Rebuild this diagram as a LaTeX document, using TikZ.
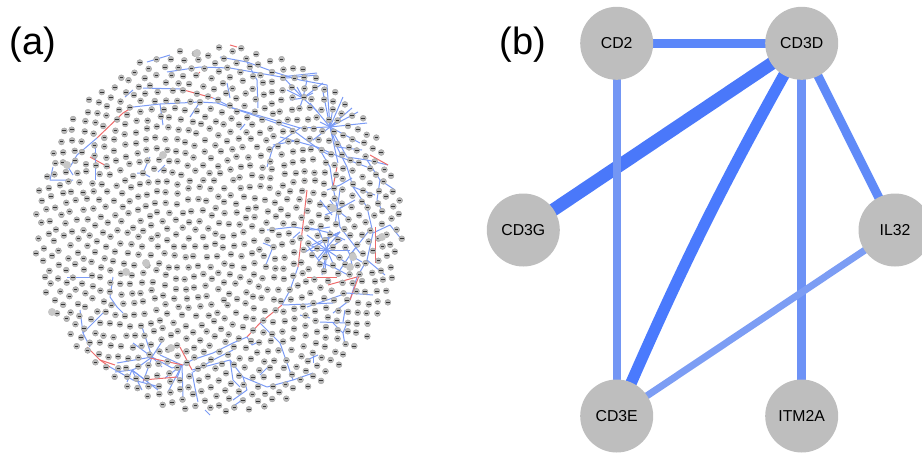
\documentclass[tikz,border=0pt]{standalone}
\usepackage{fontspec}
\setmainfont{Liberation Sans}
\usetikzlibrary{backgrounds}

\definecolor{nodegray}{HTML}{BEBEBE}
\definecolor{dotgray}{HTML}{B8B8B8}
\definecolor{netblue}{HTML}{7B9BF5}
\definecolor{netred}{HTML}{EE6B6B}
\definecolor{eA}{HTML}{4A78FA}
\definecolor{eB}{HTML}{4A7AFD}
\definecolor{eC}{HTML}{5B87F9}
\definecolor{eD}{HTML}{5F8AF8}
\definecolor{eE}{HTML}{6D92F6}
\definecolor{eF}{HTML}{7396F4}
\definecolor{eG}{HTML}{7C9DF4}

\tikzset{
  panellabel/.style={font=\fontsize{28.5}{30}\selectfont, inner sep=0pt},
  gene/.style={circle, fill=nodegray, minimum size=54.75pt, inner sep=0pt,
    font=\fontsize{11.85}{13}\selectfont},
  bl/.style={netblue, line width=0.75pt, line join=round},
  rd/.style={netred, line width=0.75pt, line join=round},
  dot/.style={fill=dotgray, draw=black!38, line width=0.25pt},
  dotlab/.style={black!80, line width=0.7pt},
  bigdot/.style={fill=black!22},
  link/.style={line cap=butt}
}

\begin{document}
\begin{tikzpicture}[x=0.75pt, y=-0.75pt]
\useasboundingbox (0,0) rectangle (922,454);

% ---------------- panel (a): large co-expression network ----------------
\node[panellabel] (la) at (33,45) {(a)};

% edges of the network (drawn under the vertices)
\draw[bl] (167,72) -- (200,67) -- (230,68) -- (287,78) -- (317,75);
\draw[bl] (147,62) -- (170,55);
\draw[bl] (220,57) -- (247,62) -- (277,73) -- (300,80) -- (327,85);
\draw[bl] (143,88) -- (180,89);
\draw[rd] (180,89) -- (213,98);
\draw[bl] (213,98) -- (233,108) -- (267,118) -- (300,128) -- (330,127);
\draw[bl] (133,107) -- (160,104) -- (200,102) -- (217,103) -- (253,115) -- (290,128) -- (320,150) -- (333,157);
\draw[rd] (97,138) -- (123,113) -- (133,107);
\draw[bl] (97,138) -- (77,155) -- (70,167);
\draw[rd] (90,157) -- (110,168);
\draw[bl] (95,142) -- (95,180);
\draw[bl] (53,167) -- (50,180) -- (73,180);
\draw[bl] (68,167) -- (73,175);
\draw[bl] (267,167) -- (273,147) -- (293,133) -- (300,128);
\draw[bl] (160,104) -- (163,125);
\draw[bl] (200,102) -- (190,117);
\draw[bl] (247,62) -- (257,80) -- (258,108);
\draw[bl] (227,83) -- (230,98);
\draw[bl] (125,97) -- (133,90);
\draw[bl] (240,130) -- (245,124);
\draw[bl] (280,77) -- (317,73);
\draw[bl] (280,137) -- (317,147) -- (340,157) -- (367,167);
\draw[bl] (273,145) -- (300,140);

% hubs in the upper right
\foreach \x/\y in {310/103,323/92,333/107,343/115,358/112,352/108,320/122,313/140,333/138,360/143,347/157,338/163,327/85,343/97,367/123}
  \draw[bl] (330,127) -- (\x,\y);
\foreach \x/\y in {287/90,297/87,313/93,307/80,323/83,283/77,300/107,318/112,290/100}
  \draw[bl] (303,98) -- (\x,\y);

% chains along the right side
\draw[bl] (330,127) -- (337,147) -- (347,167) -- (353,187) -- (367,207) -- (373,233) -- (367,260) -- (357,277) -- (350,300) -- (333,313);
\draw[bl] (320,150) -- (330,167) -- (333,187) -- (337,207) -- (340,227) -- (350,240) -- (360,253);
\draw[bl] (347,157) -- (367,160) -- (380,180) -- (377,200) -- (383,213);
\draw[bl] (367,160) -- (388,165);
\draw[bl] (373,233) -- (390,225) -- (402,240);
\draw[bl] (367,260) -- (385,275);
\draw[bl] (380,180) -- (395,190);
\draw[bl] (337,147) -- (362,150);
\draw[bl] (353,187) -- (375,195);

% dense cluster on the right
\foreach \x/\y in {307/235,310/250,318/262,325/270,335/268,345/262,350/250,342/240,330/230,318/228,308/245,322/275}
  \draw[bl] (327,250) -- (\x,\y);
\foreach \x/\y in {330/200,345/205,325/215,350/220,335/225,320/205,340/190,355/200}
  \draw[bl] (337,210) -- (\x,\y);
\foreach \x/\y in {345/245,358/245,352/265,362/262,340/270,368/232}
  \draw[bl] (350,255) -- (\x,\y);
\foreach \x/\y in {312/245,318/258,322/240,305/252}
  \draw[bl] (340,232) -- (\x,\y);
\draw[bl] (307,245) -- (320,262) -- (335,268) -- (348,275);
\draw[bl] (310,228) -- (330,233) -- (345,240);
\draw[bl] (267,230) -- (293,227) -- (313,230) -- (330,227);
\draw[bl] (263,243) -- (273,247) -- (265,267);
\draw[bl] (293,238) -- (300,232);
\draw[bl] (327,190) -- (340,185) -- (352,178);
\draw[bl] (320,200) -- (332,215);
\draw[rd] (270,230) -- (273,231);

% red links near the right
\draw[rd] (307,190) -- (302,233) -- (298,267);
\draw[rd] (337,167) -- (333,187);
\draw[rd] (307,277) -- (337,277);
\draw[rd] (328,285) -- (357,277);
\draw[rd] (350,300) -- (360,273);
\draw[rd] (375,227) -- (375,263);
\draw[rd] (370,155) -- (388,165);
\draw[rd] (230,45) -- (237,47);
\draw[rd] (197,75) -- (200,72);

% long path to the bottom left
\draw[bl] (298,267) -- (290,290) -- (282,305);
\draw[rd] (282,305) -- (260,323) -- (247,337);
\draw[bl] (247,337) -- (233,343) -- (213,353) -- (192,360) -- (183,365);
\draw[bl] (247,337) -- (252,345) -- (258,342);

% lower right
\draw[bl] (260,323) -- (280,343) -- (287,363) -- (293,380);
\draw[bl] (307,307) -- (347,293) -- (373,295);
\draw[bl] (283,305) -- (333,303);
\draw[bl] (320,322) -- (347,323) -- (343,333) -- (333,323);
\draw[bl] (343,322) -- (345,310);
\draw[bl] (343,333) -- (345,345);
\draw[bl] (300,315) -- (310,318);
\draw[bl] (313,363) -- (313,350);
\draw[bl] (307,360) -- (318,355);

% cluster at the bottom left
\foreach \x/\y in {142/327,133/343,163/340,117/363,137/368,143/382,162/367,172/368}
  \draw[bl] (152,357) -- (\x,\y);
\foreach \x/\y in {165/378,177/378,183/397,168/392,172/368,160/355}
  \draw[bl] (182,365) -- (\x,\y);
\foreach \x/\y in {115/372,127/382,148/382,142/390,158/390,137/368}
  \draw[bl] (132,370) -- (\x,\y);
\draw[rd] (150,358) -- (183,365);
\draw[rd] (180,347) -- (192,370);
\draw[rd] (143,380) -- (177,377);
\draw[rd] (100,360) -- (115,365);
\draw[bl] (192,372) -- (195,388) -- (198,402);
\draw[bl] (193,372) -- (213,360) -- (233,350);
\draw[bl] (192,370) -- (230,360) -- (243,377) -- (267,387) -- (293,380) -- (313,373);
\draw[bl] (243,377) -- (247,390) -- (233,400);
\draw[bl] (230,360) -- (233,380) -- (240,387);
\draw[bl] (235,405) -- (245,398);
\draw[bl] (260,375) -- (270,365);
\draw[bl] (205,410) -- (210,415);

% left rim
\draw[bl] (80,310) -- (83,333) -- (90,347);
\draw[rd] (87,347) -- (100,360) -- (110,367);
\draw[bl] (110,367) -- (133,380) -- (160,387);
\draw[bl] (83,333) -- (103,313);
\draw[bl] (67,277) -- (93,277);
\draw[bl] (113,277) -- (110,297) -- (117,307) -- (123,313);
\draw[bl] (150,157) -- (143,173) -- (137,173);
\draw[bl] (143,173) -- (150,177);
\draw[bl] (165,165) -- (158,172);

% vertices of the network: a slightly jittered sunflower layout in a disc
\pgfmathsetseed{4242}
\foreach \i in {1,...,1000} {
  \pgfmathsetmacro\rr{184*sqrt((\i-0.5)/1000)}
  \pgfmathsetmacro\tt{\i*0.381966}
  \pgfmathsetmacro\aa{360*(\tt-floor(\tt))}
  \pgfmathsetmacro\px{218+\rr*cos(\aa)+1.6*rand}
  \pgfmathsetmacro\py{230+\rr*sin(\aa)+1.6*rand}
  \fill[dot] (\px,\py) circle (2.25pt);
  \draw[dotlab] ({\px-1.8},\py) -- ({\px+1.8},\py);
}
\foreach \x/\y in {197/53,67/165,163/155,126/272,146/263,52/312,171/348,333/208,382/237,353/257,350/267}
  \fill[bigdot] (\x,\y) circle (3pt);

% ---------------- panel (b): CD3 sub-network ----------------
\node[panellabel] (lb) at (523,45) {(b)};

\node[gene] (cd2)   at (616.7,43.3) {CD2};
\node[gene] (cd3d)  at (801.7,43.3) {CD3D};
\node[gene] (cd3g)  at (523.3,230)  {CD3G};
\node[gene] (il32)  at (895,230)    {IL32};
\node[gene] (cd3e)  at (616.7,416)  {CD3E};
\node[gene] (itm2a) at (801.7,416)  {ITM2A};

\begin{scope}[on background layer, link]
  \draw[eA, line width=9.75pt] (cd3g.center) -- (cd3d.center);
  \draw[eB, line width=8.6pt]  (cd3d.center) to[bend right=3] (cd3e.center);
  \draw[eC, line width=7.1pt]  (cd2.center) -- (cd3d.center);
  \draw[eD, line width=6.75pt] (cd3d.center) -- (il32.center);
  \draw[eE, line width=6.4pt]  (cd3d.center) -- (itm2a.center);
  \draw[eF, line width=6pt]    (cd2.center) -- (cd3e.center);
  \draw[eG, line width=5.25pt] (il32.center) -- (cd3e.center);
\end{scope}
\end{tikzpicture}
\end{document}
